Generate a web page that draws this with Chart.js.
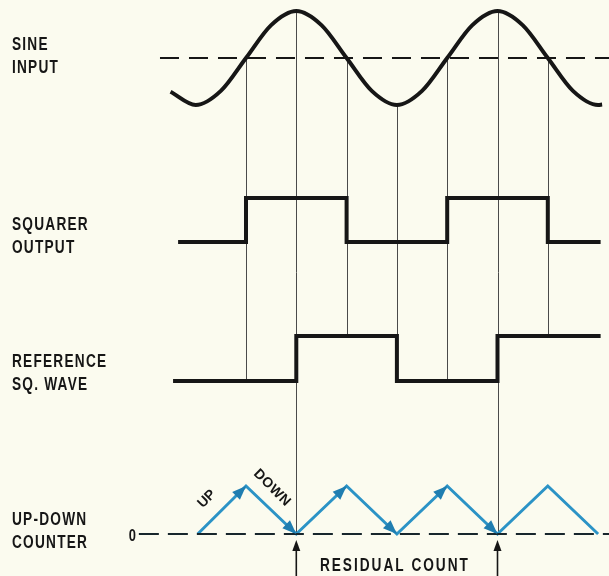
<!DOCTYPE html>
<html>
<head>
<meta charset="utf-8">
<script src="https://cdn.jsdelivr.net/npm/chart.js@4/dist/chart.umd.min.js"></script>
<style>
  html, body { margin: 0; padding: 0; background: #fbfbef; }
  canvas { display: block; }
</style>
</head>
<body>
<canvas id="timing" width="609" height="576"></canvas>
<script>
// time in quarter periods, t = 0 at the first upward zero crossing
const sineT = [-1.5, -1, -0.5, 0, 0.5, 1, 1.5, 2, 2.5, 3, 3.5, 4, 4.5, 5, 5.5, 6, 6.5, 7, 7.08];
const sineV = [-0.72, -1, -0.7, 0, 0.7, 1, 0.7, 0, -0.7, -1, -0.7, 0, 0.7, 1, 0.7, 0, -0.7, -1, -0.99];

const squarerT = [-1.35, 0, 2, 4, 6, 7.05];
const squarerV = [0, 1, 0, 1, 0, 0];

const refT = [-1.45, 1, 3, 5, 7.05];
const refV = [0, 1, 0, 1, 1];

const counterT = [-0.96, 0, 1, 2, 3, 4, 5, 6, 7];
const counterV = [0, 1, 0, 1, 0, 1, 0, 1, 0];
const arrowSegments = 6; // first six strokes carry arrow heads

const midlineT = [-1.71, 7.3];
const zeroLineT = [-2.13, 7.3];

// vertical guide lines: time, sine value at top, lower end (band, value)
const guideT = [0, 1, 2, 3, 4, 5, 6];
const guideTop = [0, 1, 0, -1, 0, 1, 0];
const guideEnd = [["yRef", 0], ["yCnt", 0], ["yRef", 1], ["yRef", 0], ["yRef", 0], ["yCnt", 0], ["yRef", 1]];

const residualT = [1, 5];

const rowLabels = [
  { axis: "ySine", lines: ["SINE", "INPUT"], dy: -1.5 },
  { axis: "ySq", lines: ["SQUARER", "OUTPUT"], dy: -5 },
  { axis: "yRef", lines: ["REFERENCE", "SQ. WAVE"], dy: -7.5 },
  { axis: "yCnt", lines: ["UP-DOWN", "COUNTER"], dy: -2 }
];

// layout: pixel of t=0 and pixels per unit; baseline/unit per band
const W = 609, H = 576;
const X0 = 246, XU = 50.3;
const bands = {
  ySine: { zero: 58, unit: 47 },
  ySq: { zero: 242, unit: 44 },
  yRef: { zero: 381, unit: 45 },
  yCnt: { zero: 534, unit: 48 }
};

const INK = "#161616";
const BLUE = "#2b93c6";
const BLUE_DARK = "#1f7db0";

function pts(ts, vs) {
  return ts.map((t, i) => ({ x: t, y: vs[i] }));
}

function bandAxis(name) {
  const b = bands[name];
  return { type: "linear", display: false, min: (b.zero - H) / b.unit, max: b.zero / b.unit };
}

function letterText(ctx, text, x, y, size, spacing, align) {
  ctx.save();
  ctx.font = "bold " + size + "px 'Liberation Sans', Arial, sans-serif";
  ctx.letterSpacing = spacing + "px";
  ctx.textBaseline = "middle";
  ctx.fillStyle = INK;
  const sx = 0.76;
  const w = ctx.measureText(text).width * sx;
  let left = x;
  if (align === "center") left = x - w / 2;
  if (align === "right") left = x - w;
  ctx.translate(left, y);
  ctx.scale(sx, 1);
  ctx.textAlign = "left";
  ctx.fillText(text, 0, 0);
  ctx.restore();
}

function arrowHead(ctx, x1, y1, x2, y2, len, half, color) {
  const a = Math.atan2(y2 - y1, x2 - x1);
  ctx.save();
  ctx.fillStyle = color;
  ctx.beginPath();
  ctx.moveTo(x2, y2);
  ctx.lineTo(x2 - len * Math.cos(a) + half * Math.sin(a), y2 - len * Math.sin(a) - half * Math.cos(a));
  ctx.lineTo(x2 - len * Math.cos(a) - half * Math.sin(a), y2 - len * Math.sin(a) + half * Math.cos(a));
  ctx.closePath();
  ctx.fill();
  ctx.restore();
}

const diagramPlugin = {
  id: "diagram",
  beforeDraw(chart) {
    const ctx = chart.ctx;
    ctx.save();
    ctx.fillStyle = "#fbfbef";
    ctx.fillRect(0, 0, chart.width, chart.height);
    ctx.restore();
  },
  beforeDatasetsDraw(chart) {
    const ctx = chart.ctx;
    const xs = chart.scales.x;
    ctx.save();
    ctx.strokeStyle = "#4a4a4a";
    ctx.lineWidth = 1;
    guideT.forEach((t, i) => {
      const x = Math.round(xs.getPixelForValue(t)) + 0.5;
      const y1 = chart.scales.ySine.getPixelForValue(guideTop[i]);
      const y2 = chart.scales[guideEnd[i][0]].getPixelForValue(guideEnd[i][1]);
      ctx.beginPath();
      ctx.moveTo(x, y1);
      ctx.lineTo(x, y2);
      ctx.stroke();
    });
    ctx.restore();
  },
  afterDatasetsDraw(chart) {
    const ctx = chart.ctx;
    const xs = chart.scales.x;
    const yc = chart.scales.yCnt;

    // counter arrow heads
    for (let i = 0; i < arrowSegments; i++) {
      arrowHead(ctx,
        xs.getPixelForValue(counterT[i]), yc.getPixelForValue(counterV[i]),
        xs.getPixelForValue(counterT[i + 1]), yc.getPixelForValue(counterV[i + 1]),
        14, 5.5, BLUE_DARK);
    }

    // residual count arrows
    ctx.save();
    ctx.strokeStyle = INK;
    ctx.lineWidth = 1.6;
    residualT.forEach(t => {
      const x = xs.getPixelForValue(t);
      const tip = yc.getPixelForValue(0) + 6;
      ctx.beginPath();
      ctx.moveTo(x, H);
      ctx.lineTo(x, tip + 8);
      ctx.stroke();
      arrowHead(ctx, x, H, x, tip, 11, 4, INK);
    });
    ctx.restore();
    const midT = (residualT[0] + residualT[1]) / 2;
    letterText(ctx, "RESIDUAL COUNT", xs.getPixelForValue(midT) - 2, 566, 18, 2.6, "center");

    // zero mark of the counter
    letterText(ctx, "0", xs.getPixelForValue(zeroLineT[0]) - 3, yc.getPixelForValue(0) + 2, 17, 0, "right");

    // UP / DOWN along first two strokes
    const ux = (xs.getPixelForValue(counterT[0]) + xs.getPixelForValue(counterT[1])) / 2;
    const uy = (yc.getPixelForValue(counterV[0]) + yc.getPixelForValue(counterV[1])) / 2;
    const dx = (xs.getPixelForValue(counterT[1]) + xs.getPixelForValue(counterT[2])) / 2;
    const dy = (yc.getPixelForValue(counterV[1]) + yc.getPixelForValue(counterV[2])) / 2;
    ctx.save();
    ctx.fillStyle = INK;
    ctx.font = "bold 14px 'Liberation Sans', Arial, sans-serif";
    ctx.textAlign = "center";
    ctx.textBaseline = "middle";
    ctx.translate(ux - 15, uy - 11);
    ctx.rotate(-Math.PI / 4);
    ctx.fillText("UP", 0, 0);
    ctx.restore();
    ctx.save();
    ctx.fillStyle = INK;
    ctx.font = "bold 14px 'Liberation Sans', Arial, sans-serif";
    ctx.letterSpacing = "0.5px";
    ctx.textAlign = "center";
    ctx.textBaseline = "middle";
    ctx.translate(dx + 1, dy - 22);
    ctx.rotate(Math.PI / 4);
    ctx.fillText("DOWN", 0, 0);
    ctx.restore();

    // row labels
    rowLabels.forEach(r => {
      const c = chart.scales[r.axis].getPixelForValue(0) + r.dy;
      letterText(ctx, r.lines[0], 12, c - 11.5, 18, 1.6, "left");
      letterText(ctx, r.lines[1], 12, c + 11.5, 18, 1.6, "left");
    });
  }
};

new Chart(document.getElementById("timing"), {
  type: "scatter",
  data: {
    datasets: [
      {
        label: "midline",
        data: pts(midlineT, [0, 0]),
        yAxisID: "ySine",
        showLine: true,
        borderColor: INK,
        borderWidth: 2,
        borderDash: [19, 10],
        pointRadius: 0
      },
      {
        label: "Sine input",
        data: pts(sineT, sineV),
        yAxisID: "ySine",
        showLine: true,
        borderColor: INK,
        borderWidth: 4,
        cubicInterpolationMode: "monotone",
        pointRadius: 0
      },
      {
        label: "Squarer output",
        data: pts(squarerT, squarerV),
        yAxisID: "ySq",
        showLine: true,
        stepped: "before",
        borderColor: INK,
        borderWidth: 4,
        pointRadius: 0
      },
      {
        label: "Reference sq. wave",
        data: pts(refT, refV),
        yAxisID: "yRef",
        showLine: true,
        stepped: "before",
        borderColor: INK,
        borderWidth: 4,
        pointRadius: 0
      },
      {
        label: "zero",
        data: pts(zeroLineT, [0, 0]),
        yAxisID: "yCnt",
        showLine: true,
        borderColor: "#17262c",
        borderWidth: 2,
        borderDash: [20, 9],
        pointRadius: 0
      },
      {
        label: "Up-down counter",
        data: pts(counterT, counterV),
        yAxisID: "yCnt",
        showLine: true,
        borderColor: BLUE,
        borderWidth: 3,
        pointRadius: 0
      }
    ]
  },
  options: {
    responsive: false,
    animation: false,
    layout: { padding: 0 },
    plugins: {
      legend: { display: false },
      tooltip: { enabled: false }
    },
    scales: {
      x: { type: "linear", display: false, min: -X0 / XU, max: (W - X0) / XU },
      ySine: bandAxis("ySine"),
      ySq: bandAxis("ySq"),
      yRef: bandAxis("yRef"),
      yCnt: bandAxis("yCnt")
    }
  },
  plugins: [diagramPlugin]
});
</script>
</body>
</html>
